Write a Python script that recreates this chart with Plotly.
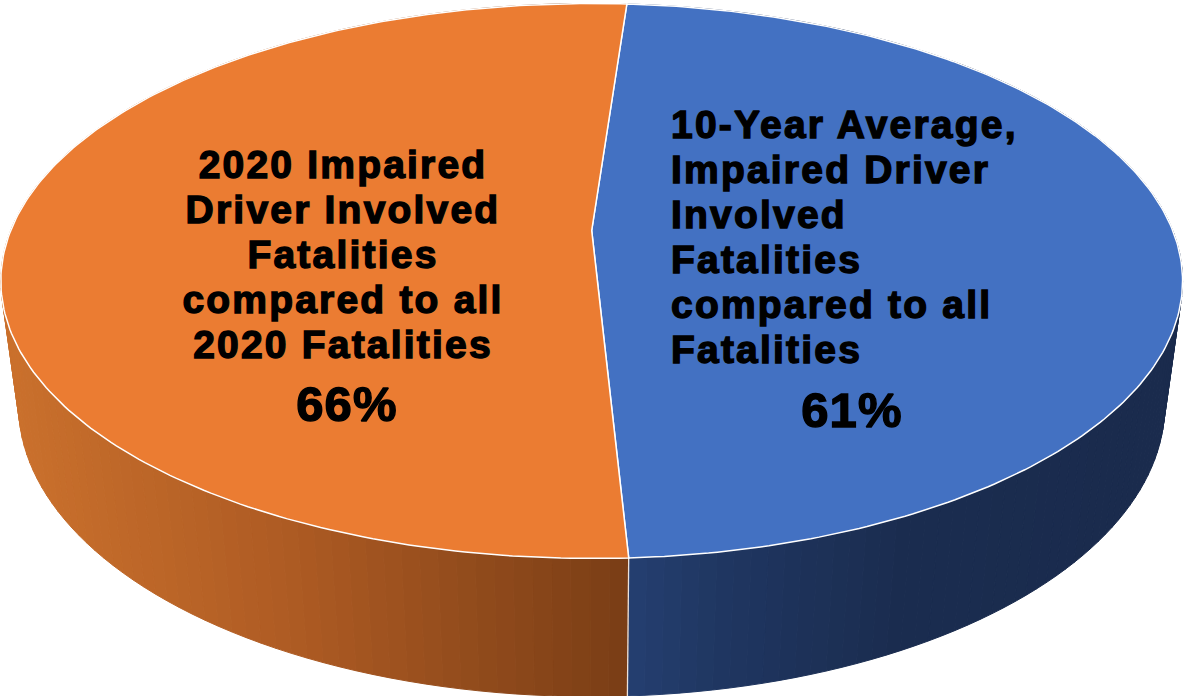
import numpy as np
import plotly.graph_objects as go

# --- data -----------------------------------------------------------------
slice_names = ["10-Year Average, Impaired Driver Involved Fatalities compared to all Fatalities",
               "2020 Impaired Driver Involved Fatalities compared to all 2020 Fatalities"]
slice_values = [61, 66]
value_labels = ["61%", "66%"]
blue_lines = ["10-Year Average,", "Impaired Driver", "Involved", "Fatalities",
              "compared to all", "Fatalities"]
orange_lines = ["2020 Impaired", "Driver Involved", "Fatalities",
                "compared to all", "2020 Fatalities"]

# --- style ----------------------------------------------------------------
W, H = 1186, 696
TOP_COLORS = ["#4371C2", "#EB7C32"]
CX, CY = 591.7, 230.5          # projected pie centre
A, B, K = 268.3, 581.0, 0.182  # perspective projection of the disc
WALL_H, WALL_C = 126.9, 0.03   # drop of the lower rim and its extra depth
START_DEG = 4.1
FONT = "Liberation Sans"


def top_xy(theta):
    """Angle clockwise from the far point -> page position on the top face."""
    u, v = np.sin(theta), -np.cos(theta)
    d = 1 - K * v
    return CX + B * u / d, CY + A * v / d


def bottom_xy(theta):
    u, v = np.sin(theta), -np.cos(theta)
    d = 1 - K * v + WALL_C
    return CX + B * u / d, CY + (A * v + WALL_H) / d


def lerp(stops, x):
    xs = [s[0] for s in stops]
    return "rgb(%d,%d,%d)" % tuple(np.interp(x, xs, [s[i] for s in stops]) for i in (1, 2, 3))


WALL_STOPS = [
    [(630, 37, 63, 113), (720, 32, 55, 98), (900, 27, 45, 80), (1186, 26, 43, 77)],
    [(0, 203, 113, 45), (280, 175, 92, 36), (629, 122, 62, 22)],
]

total = sum(slice_values)
sweeps = [np.radians(360 * v / total) for v in slice_values]
starts = [np.radians(START_DEG), np.radians(START_DEG) + sweeps[0]]

fig = go.Figure()

# side walls, as narrow strips carrying the horizontal shading
for i in range(2):
    n = 120
    edges = np.linspace(starts[i], starts[i] + sweeps[i], n + 1)
    for j in range(n):
        th = np.linspace(edges[j], edges[j + 1], 3)
        xt, yt = top_xy(th)
        xb, yb = bottom_xy(th)
        col = lerp(WALL_STOPS[i], float(xt.mean()))
        fig.add_trace(go.Scatter(
            x=np.r_[xt, xb[::-1], xt[0]], y=np.r_[yt, yb[::-1], yt[0]],
            mode="lines", fill="toself", fillcolor=col,
            line=dict(color=col, width=1), hoverinfo="skip", showlegend=False))

# white seam down the wall between the two slices
seam = starts[1]
sx0, sy0 = top_xy(seam)
sx1, sy1 = bottom_xy(seam)
fig.add_trace(go.Scatter(x=[sx0, sx1], y=[sy0, sy1], mode="lines",
                         line=dict(color="rgba(255,255,255,0.85)", width=1.3),
                         hoverinfo="skip", showlegend=False))

# top face
for i in range(2):
    th = np.linspace(starts[i], starts[i] + sweeps[i], 240)
    xt, yt = top_xy(th)
    fig.add_trace(go.Scatter(
        x=np.r_[CX, xt, CX], y=np.r_[CY, yt, CY],
        mode="lines", fill="toself", fillcolor=TOP_COLORS[i],
        line=dict(color="white", width=1.5),
        name=slice_names[i], hoverinfo="skip", showlegend=False))

# labels
LINE_GAP = 44.9
BLUE_X, BLUE_BASE = 671, 141
ORANGE_X, ORANGE_BASE = 343, 181
TSIZE, VSIZE = 39, 49


def text_trace(x, y, s, pos, size):
    fig.add_trace(go.Scatter(x=[x], y=[y], mode="text", text=[s], textposition=pos,
                             textfont=dict(family=FONT, size=size, color="black", weight="bold"),
                             hoverinfo="skip", showlegend=False))


for k, s in enumerate(blue_lines):
    text_trace(BLUE_X, BLUE_BASE + k * LINE_GAP - 0.34 * 37, s, "middle right", TSIZE)
for k, s in enumerate(orange_lines):
    text_trace(ORANGE_X, ORANGE_BASE + k * LINE_GAP - 0.34 * 37, s, "middle center", TSIZE)
text_trace(852, 414.5, value_labels[0], "middle center", VSIZE)
text_trace(347, 409, value_labels[1], "middle center", VSIZE)

fig.update_layout(
    width=W, height=H, margin=dict(l=0, r=0, t=0, b=0),
    paper_bgcolor="white", plot_bgcolor="white", showlegend=False,
    xaxis=dict(range=[0, W], visible=False, fixedrange=True),
    yaxis=dict(range=[H, 0], visible=False, fixedrange=True),
)

post = """
document.body.style.margin = '0';
document.body.style.overflow = 'hidden';
function dress() {
  document.querySelectorAll('.textpoint text').forEach(function (t) {
    var big = parseFloat(t.style.fontSize) > 42;
    t.style.letterSpacing = big ? '1.2px' : '2.2px';
    t.style.stroke = 'black';
    t.style.strokeWidth = '1.4px';
  });
}
dress(); setTimeout(dress, 50); setTimeout(dress, 400);
"""
fig.write_html("out.html", post_script=post, config={"displayModeBar": False})
